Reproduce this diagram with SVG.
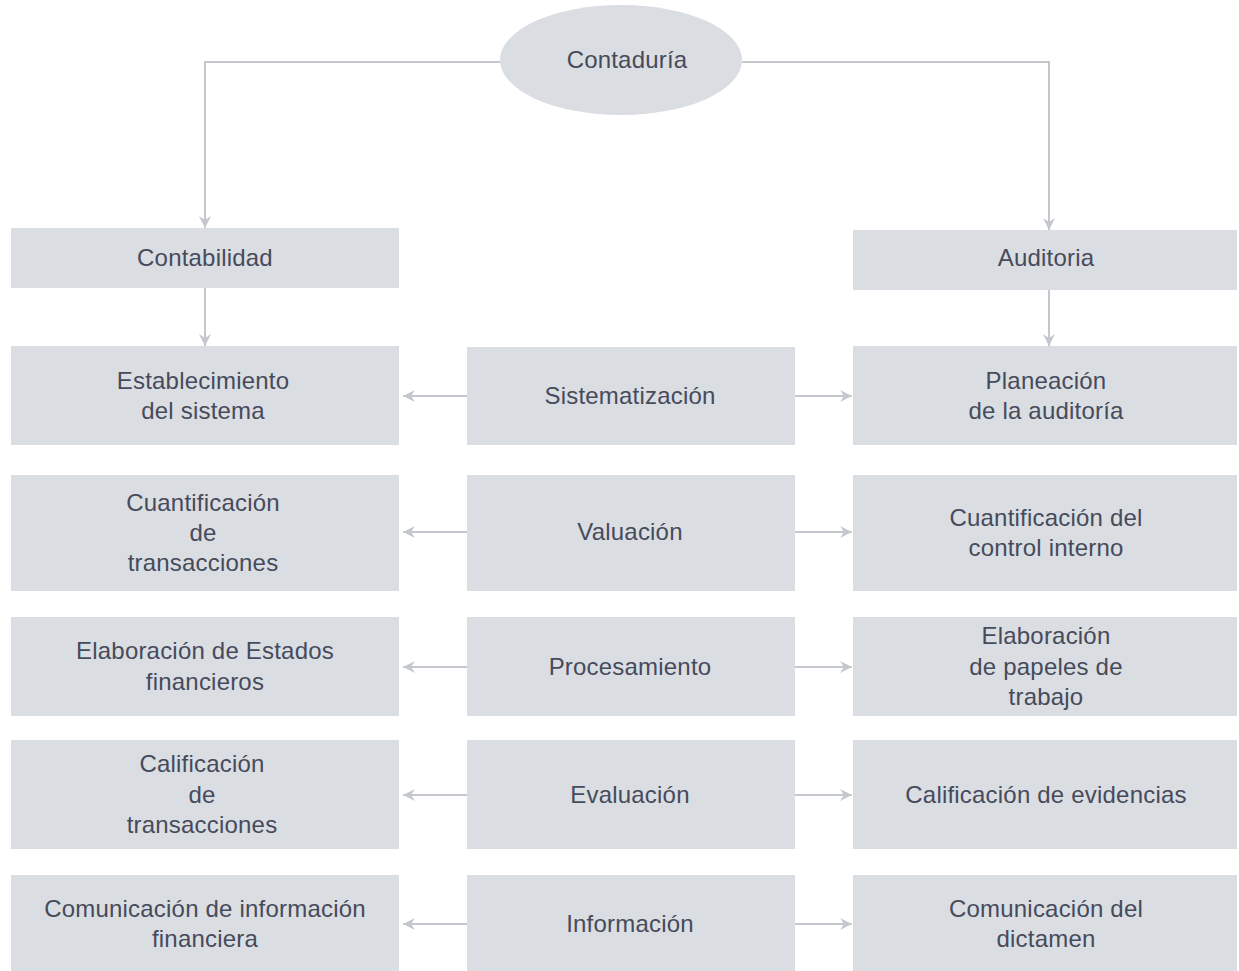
<svg xmlns="http://www.w3.org/2000/svg" width="1239" height="971" viewBox="0 0 1239 971">
<style>
.box{fill:#dadde2;}
.t{font-family:"Liberation Sans",Arial,sans-serif;font-size:24px;fill:#464b5b;text-anchor:middle;letter-spacing:0.2px;}
.c{fill:none;stroke:#c4c7cd;stroke-width:2;}
</style>
<defs>
<marker id="ah" viewBox="0 0 14 14" refX="13" refY="7" markerWidth="14" markerHeight="14" markerUnits="userSpaceOnUse" orient="auto">
<path d="M1,1 L13,7 L1,13 L5,7 z" fill="#c4c7cd"/>
</marker>
</defs>
<rect width="1239" height="971" fill="#ffffff"/>
<g id="connectors">
<path class="c" d="M500,62 H205 V228" marker-end="url(#ah)"/>
<path class="c" d="M742,62 H1049 V230" marker-end="url(#ah)"/>
<path class="c" d="M205,288 V346" marker-end="url(#ah)"/>
<path class="c" d="M1049,290 V346" marker-end="url(#ah)"/>
<path class="c" d="M467,396 H403" marker-end="url(#ah)"/>
<path class="c" d="M795,396 H852" marker-end="url(#ah)"/>
<path class="c" d="M467,532 H403" marker-end="url(#ah)"/>
<path class="c" d="M795,532 H852" marker-end="url(#ah)"/>
<path class="c" d="M467,667 H403" marker-end="url(#ah)"/>
<path class="c" d="M795,667 H852" marker-end="url(#ah)"/>
<path class="c" d="M467,795 H403" marker-end="url(#ah)"/>
<path class="c" d="M795,795 H852" marker-end="url(#ah)"/>
<path class="c" d="M467,924 H403" marker-end="url(#ah)"/>
<path class="c" d="M795,924 H852" marker-end="url(#ah)"/>
</g>
<g id="contaduria">
<ellipse class="box" cx="621" cy="60" rx="121" ry="55"/>
<text class="t" x="627" y="68">Contaduría</text>
</g>
<g id="contabilidad">
<rect class="box" x="11" y="228" width="388" height="60"/>
<text class="t" x="205" y="266">Contabilidad</text>
</g>
<g id="auditoria">
<rect class="box" x="853" y="230" width="384" height="60"/>
<text class="t" x="1046" y="266">Auditoria</text>
</g>
<g id="establecimiento">
<rect class="box" x="11" y="346" width="388" height="99"/>
<text class="t" x="203" y="389">Establecimiento</text>
<text class="t" x="203" y="419">del sistema</text>
</g>
<g id="sistematizacion">
<rect class="box" x="467" y="347" width="328" height="98"/>
<text class="t" x="630" y="404">Sistematización</text>
</g>
<g id="planeacion">
<rect class="box" x="853" y="346" width="384" height="99"/>
<text class="t" x="1046" y="389">Planeación</text>
<text class="t" x="1046" y="419">de la auditoría</text>
</g>
<g id="cuantificacion-trans">
<rect class="box" x="11" y="475" width="388" height="116"/>
<text class="t" x="203" y="511">Cuantificación</text>
<text class="t" x="203" y="541">de</text>
<text class="t" x="203" y="571">transacciones</text>
</g>
<g id="valuacion">
<rect class="box" x="467" y="475" width="328" height="116"/>
<text class="t" x="630" y="540">Valuación</text>
</g>
<g id="cuantificacion-control">
<rect class="box" x="853" y="475" width="384" height="116"/>
<text class="t" x="1046" y="526">Cuantificación del</text>
<text class="t" x="1046" y="556">control interno</text>
</g>
<g id="elaboracion-estados">
<rect class="box" x="11" y="617" width="388" height="99"/>
<text class="t" x="205" y="659">Elaboración de Estados</text>
<text class="t" x="205" y="690">financieros</text>
</g>
<g id="procesamiento">
<rect class="box" x="467" y="617" width="328" height="99"/>
<text class="t" x="630" y="675">Procesamiento</text>
</g>
<g id="elaboracion-papeles">
<rect class="box" x="853" y="617" width="384" height="99"/>
<text class="t" x="1046" y="644">Elaboración</text>
<text class="t" x="1046" y="675">de papeles de</text>
<text class="t" x="1046" y="705">trabajo</text>
</g>
<g id="calificacion-trans">
<rect class="box" x="11" y="740" width="388" height="109"/>
<text class="t" x="202" y="772">Calificación</text>
<text class="t" x="202" y="803">de</text>
<text class="t" x="202" y="833">transacciones</text>
</g>
<g id="evaluacion">
<rect class="box" x="467" y="740" width="328" height="109"/>
<text class="t" x="630" y="803">Evaluación</text>
</g>
<g id="calificacion-evid">
<rect class="box" x="853" y="740" width="384" height="109"/>
<text class="t" x="1046" y="803">Calificación de evidencias</text>
</g>
<g id="comunicacion-info">
<rect class="box" x="11" y="875" width="388" height="96"/>
<text class="t" x="205" y="917">Comunicación de información</text>
<text class="t" x="205" y="947">financiera</text>
</g>
<g id="informacion">
<rect class="box" x="467" y="875" width="328" height="96"/>
<text class="t" x="630" y="932">Información</text>
</g>
<g id="comunicacion-dict">
<rect class="box" x="853" y="875" width="384" height="96"/>
<text class="t" x="1046" y="917">Comunicación del</text>
<text class="t" x="1046" y="947">dictamen</text>
</g>
</svg>
